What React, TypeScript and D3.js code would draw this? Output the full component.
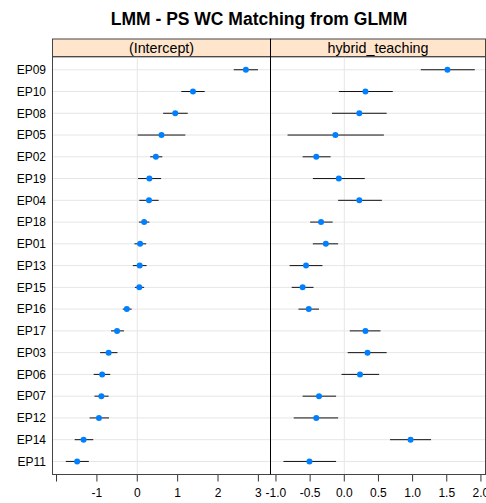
import React from "react";
import * as d3 from "d3";

const categories = ["EP09","EP10","EP08","EP05","EP02","EP19","EP04","EP18","EP01","EP13","EP15","EP16","EP17","EP03","EP06","EP07","EP12","EP14","EP11"];

const interceptEst = [2.69,1.38,0.94,0.60,0.46,0.30,0.29,0.17,0.07,0.06,0.05,-0.26,-0.50,-0.71,-0.87,-0.89,-0.95,-1.33,-1.49];
const interceptLo  = [2.39,1.09,0.64,0.01,0.32,0.02,0.05,0.04,-0.07,-0.11,-0.06,-0.36,-0.65,-0.92,-1.08,-1.06,-1.18,-1.55,-1.77];
const interceptHi  = [2.99,1.67,1.25,1.19,0.62,0.59,0.53,0.30,0.22,0.23,0.17,-0.14,-0.33,-0.49,-0.67,-0.71,-0.70,-1.09,-1.20];

const hybridEst = [1.51,0.31,0.22,-0.13,-0.41,-0.08,0.22,-0.34,-0.27,-0.56,-0.61,-0.52,0.31,0.34,0.23,-0.37,-0.41,0.97,-0.51];
const hybridLo  = [1.12,-0.08,-0.18,-0.83,-0.61,-0.46,-0.09,-0.50,-0.46,-0.80,-0.77,-0.67,0.08,0.05,-0.04,-0.61,-0.74,0.67,-0.89];
const hybridHi  = [1.91,0.71,0.62,0.58,-0.20,0.30,0.55,-0.17,-0.09,-0.32,-0.45,-0.37,0.53,0.62,0.51,-0.12,-0.09,1.27,-0.12];

const interceptTicks = [-2,-1,0,1,2,3];
const interceptTickLabels = ["","-1","0","1","2","3"];
const hybridTicks = [-1,-0.5,0,0.5,1,1.5,2];
const hybridTickLabels = ["-1.0","-0.5","0.0","0.5","1.0","1.5","2.0"];

const panelNames = ["(Intercept)", "hybrid_teaching"];

const FONT = "Liberation Sans, Arial, Helvetica, sans-serif";

export default function App() {
  const W = 486, H = 503;
  const top = 56.7, bottom = 474.5, stripTop = 39;
  const y = d3.scaleLinear().domain([0.4, 19.6]).range([top, bottom]);

  const panels = [
    {
      name: panelNames[0],
      x: d3.scaleLinear().domain([-2.1, 3.3]).range([52.5, 270.5]),
      est: interceptEst, lo: interceptLo, hi: interceptHi,
      ticks: interceptTicks, labels: interceptTickLabels,
    },
    {
      name: panelNames[1],
      x: d3.scaleLinear().domain([-1.08, 2.067]).range([270.5, 485.5]),
      est: hybridEst, lo: hybridLo, hi: hybridHi,
      ticks: hybridTicks, labels: hybridTickLabels,
    },
  ];

  return (
    <svg width={W} height={H} style={{ position: "absolute", left: 0, top: 0 }} fontFamily={FONT}>
      <rect x={0} y={0} width={W} height={H} fill="#fff" />
      <text x={259} y={25} textAnchor="middle" fontSize={17.5} fontWeight="bold" fill="#000">
        LMM - PS WC Matching from GLMM
      </text>
      {panels.map((p, pi) => {
        const [x0, x1] = p.x.range();
        return (
          <g key={pi}>
            <rect x={x0} y={stripTop} width={x1 - x0} height={top - stripTop} fill="#ffe5cc" stroke="#444" strokeWidth={1} />
            <text x={(x0 + x1) / 2} y={top - 3.5} textAnchor="middle" fontSize={14.3} fill="#000">{p.name}</text>
            {categories.map((c, i) => (
              <line key={c} x1={x0} x2={x1} y1={y(i + 1)} y2={y(i + 1)} stroke="#e6e6e6" strokeWidth={1} />
            ))}
            <line x1={p.x(0)} x2={p.x(0)} y1={top} y2={bottom} stroke="#e6e6e6" strokeWidth={1} />
            {categories.map((c, i) => (
              <line key={"ci" + c} x1={p.x(p.lo[i])} x2={p.x(p.hi[i])} y1={y(i + 1)} y2={y(i + 1)} stroke="#111" strokeWidth={1} />
            ))}
            {categories.map((c, i) => (
              <circle key={"pt" + c} cx={p.x(p.est[i])} cy={y(i + 1)} r={3} fill="#0080ff" />
            ))}
            {p.ticks.map((t, ti) => (
              <g key={"t" + ti}>
                <line x1={p.x(t)} x2={p.x(t)} y1={bottom} y2={bottom + 7} stroke="#333" strokeWidth={1} />
                <text x={p.x(t)} y={bottom + 22} textAnchor="middle" fontSize={12} fill="#000">{p.labels[ti]}</text>
              </g>
            ))}
            <rect x={x0} y={top} width={x1 - x0} height={bottom - top} fill="none" stroke="#444" strokeWidth={1} />
          </g>
        );
      })}
      <line x1={270.5} x2={270.5} y1={stripTop} y2={bottom} stroke="#000" strokeWidth={1} />
      {categories.map((c, i) => (
        <text key={"yl" + c} x={46} y={y(i + 1) + 4.3} textAnchor="end" fontSize={12} fill="#000">{c}</text>
      ))}
    </svg>
  );
}
